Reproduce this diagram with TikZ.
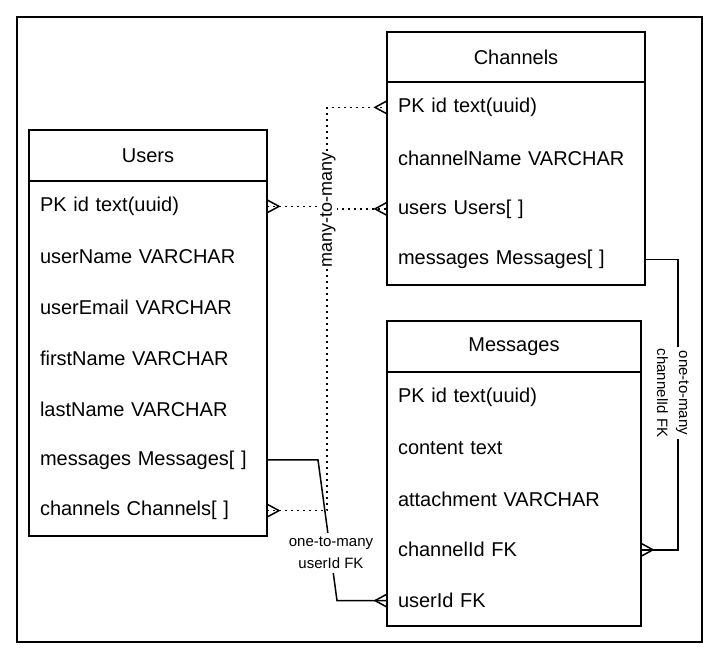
\documentclass[tikz,border=0pt]{standalone}
\usepackage{fontspec}
\setmainfont{Liberation Sans}
\usetikzlibrary{calc}
\begin{document}
\begin{tikzpicture}[x=1pt,y=-1pt,
  frame/.style={draw=black, line width=1.8pt},
  tbl/.style={draw=black, line width=1.6pt},
  hdr/.style={draw=black, line width=1.6pt, anchor=north west, inner sep=0pt, outer sep=0pt, font=\fontsize{20}{24}\selectfont},
  fld/.style={anchor=north west, inner xsep=11pt, inner ysep=0pt, outer sep=0pt, font=\fontsize{20}{24}\selectfont, align=left},
  rel/.style={line width=1.5pt},
  dots/.style={rel, dash pattern=on 1.9pt off 4.1pt},
  lbl/.style={fill=white, inner xsep=2pt, inner ysep=4pt, font=\fontsize{15}{22}\selectfont, align=center},
  crow/.pic={\draw[line width=1.5pt, solid] (0,6.5) -- (12,0) -- (0,-6.5);}
]
\useasboundingbox (0,0) rectangle (720,661);
\draw[frame] (17,17) rectangle (702,642);

% Users
\node[hdr, minimum width=238pt, minimum height=51pt] (uh) at (29,130) {Users};
\foreach \t [count=\i] in {{PK id text(uuid)},{userName VARCHAR},{userEmail VARCHAR},{firstName VARCHAR},{lastName VARCHAR},{messages Messages[ ]},{channels Channels[ ]}}
  \node[fld, text width=216pt, minimum height=50.71pt] (u\i) at (29,{181+(\i-1)*50.71}) {\t};
\draw[tbl] (uh.north west) rectangle (u7.south east);

% Channels
\node[hdr, minimum width=258pt, minimum height=50pt] (ch) at (387,32) {Channels};
\foreach \t [count=\i] in {{PK id text(uuid)},{channelName VARCHAR},{users Users[ ]},{messages Messages[ ]}}
  \node[fld, text width=236pt, minimum height=50.75pt] (c\i) at (387,{82+(\i-1)*50.75}) {\t};
\draw[tbl] (ch.north west) rectangle (c4.south east);

% Messages
\node[hdr, minimum width=254pt, minimum height=51pt] (mh) at (387,321) {Messages};
\foreach \t [count=\i] in {{PK id text(uuid)},{content text},{attachment VARCHAR},{channelId FK},{userId FK}}
  \node[fld, text width=232pt, minimum height=50.8pt] (m\i) at (387,{372+(\i-1)*50.8}) {\t};
\draw[tbl] (mh.north west) rectangle (m5.south east);

% many-to-many
\coordinate (mx) at (327,0);
\draw[dots] (u1.east) -| (mx |- c3.west) -- (c3.west);
\draw[dots] (u7.east) -| (mx |- c1.west) -- (c1.west);
\node[lbl, rotate=90, inner sep=1pt, font=\fontsize{18}{22}\selectfont] (mm) at (328,210) {many-to-many};

% one-to-many userId
\coordinate (ua) at ($(u6.east)+(51,0)$);
\coordinate (ub) at ($(m5.west)+(-50,0)$);
\draw[rel] (u6.east) -- (ua) -- (ub) -- (m5.west);
\node[lbl] (l1) at (331,553) {one-to-many\\userId FK};

% one-to-many channelId
\coordinate (ca) at ($(c4.east)+(33,0)$);
\draw[rel] (c4.east) -- (ca) |- (m4.east);
\node[lbl, rotate=-90, inner ysep=2pt] (l2) at (673,393) {one-to-many\\channelId FK};

% crow's feet
\pic at (u1.east) {crow};
\pic at (u7.east) {crow};
\pic[rotate=180] at (c1.west) {crow};
\pic[rotate=180] at (c3.west) {crow};
\pic[rotate=180] at (m5.west) {crow};
\pic at (m4.east) {crow};
\end{tikzpicture}
\end{document}
